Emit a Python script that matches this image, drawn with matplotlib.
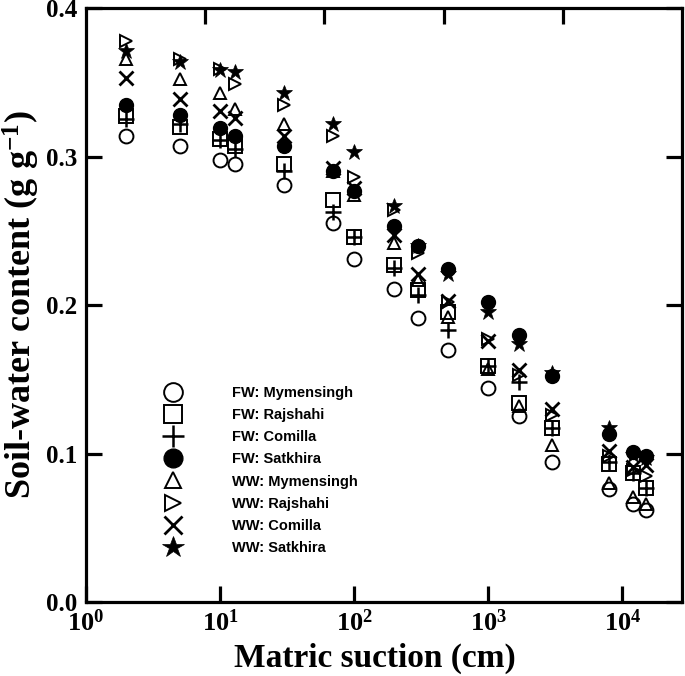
import matplotlib
matplotlib.use("Agg")
import matplotlib.pyplot as plt

plt.rcParams['mathtext.fontset'] = 'custom'
plt.rcParams['mathtext.rm'] = 'Liberation Serif:bold'
plt.rcParams['mathtext.it'] = 'Liberation Serif:bold:italic'
plt.rcParams['mathtext.bf'] = 'Liberation Serif:bold'

suction = [2, 5, 10, 13, 30, 70, 100, 200, 300, 500, 1000, 1700, 3000, 8000, 12000, 15000]

fw_mymensingh = [0.314, 0.307, 0.298, 0.295, 0.281, 0.255, 0.231, 0.211, 0.191, 0.170, 0.144, 0.125, 0.094, 0.076, 0.066, 0.062]
fw_rajshahi   = [0.327, 0.320, 0.312, 0.307, 0.295, 0.271, 0.246, 0.227, 0.210, 0.195, 0.159, 0.134, 0.117, 0.093, 0.087, 0.077]
fw_comilla    = [0.325, 0.322, 0.311, 0.305, 0.290, 0.263, 0.246, 0.225, 0.207, 0.183, 0.159, 0.148, 0.117, 0.094, 0.087, 0.077]
fw_satkhira   = [0.335, 0.328, 0.319, 0.314, 0.307, 0.290, 0.277, 0.253, 0.240, 0.224, 0.202, 0.180, 0.152, 0.113, 0.101, 0.098]
ww_mymensingh = [0.366, 0.352, 0.343, 0.332, 0.322, 0.290, 0.274, 0.242, 0.217, 0.192, 0.157, 0.132, 0.106, 0.080, 0.071, 0.066]
ww_rajshahi   = [0.378, 0.366, 0.359, 0.349, 0.335, 0.314, 0.286, 0.264, 0.235, 0.202, 0.177, 0.153, 0.126, 0.098, 0.089, 0.085]
ww_comilla    = [0.353, 0.339, 0.331, 0.326, 0.314, 0.292, 0.279, 0.247, 0.221, 0.203, 0.176, 0.156, 0.130, 0.102, 0.091, 0.092]
ww_satkhira   = [0.371, 0.364, 0.358, 0.357, 0.343, 0.322, 0.303, 0.267, 0.240, 0.221, 0.195, 0.174, 0.154, 0.117, 0.099, 0.097]

labels = ["FW: Mymensingh", "FW: Rajshahi", "FW: Comilla", "FW: Satkhira",
          "WW: Mymensingh", "WW: Rajshahi", "WW: Comilla", "WW: Satkhira"]
x_ticks = [1, 10, 100, 1000, 10000]
x_ticklabels = [r"$\mathrm{10^{0}}$", r"$\mathrm{10^{1}}$", r"$\mathrm{10^{2}}$",
                r"$\mathrm{10^{3}}$", r"$\mathrm{10^{4}}$"]
y_ticks = [0.0, 0.1, 0.2, 0.3, 0.4]

series = [fw_mymensingh, fw_rajshahi, fw_comilla, fw_satkhira,
          ww_mymensingh, ww_rajshahi, ww_comilla, ww_satkhira]
styles = [
    dict(marker='o', ms=10, mfc='none', mew=1.4),
    dict(marker='s', ms=9.5, mfc='none', mew=1.4),
    dict(marker='+', ms=12, mew=1.8),
    dict(marker='o', ms=10, mfc='black', mew=1.0),
    dict(marker='^', ms=8.5, mfc='none', mew=1.4),
    dict(marker='>', ms=8.5, mfc='none', mew=1.4),
    dict(marker='x', ms=10, mew=2.0),
    dict(marker='*', ms=12, mfc='black', mew=0.5),
]
zorders = [3, 3, 3, 6, 3, 3, 3, 5]

fig = plt.figure(figsize=(6.85, 6.76), dpi=100)
ax = fig.add_axes([0.1255, 0.1095, 0.8705, 0.8785])

handles = []
for vals, st, lab, z in zip(series, styles, labels, zorders):
    h, = ax.plot(suction, vals, linestyle='none', color='black', mec='black',
                 zorder=z, label=lab, **st)
    handles.append(h)

ax.set_xscale('log')
ax.set_xlim(1, 2.8e4)
ax.set_ylim(0, 0.4)
ax.set_xticks(x_ticks)
ax.set_xticklabels(x_ticklabels)
ax.xaxis.set_minor_locator(matplotlib.ticker.NullLocator())
ax.set_yticks(y_ticks)
ax.set_yticklabels([f"{v:.1f}" for v in y_ticks])

for s in ax.spines.values():
    s.set_linewidth(2.3)
ax.tick_params(which='major', direction='in', length=11.5, width=2.3,
               right=True, top=False, labelsize=18, pad=6)
for t in ax.get_yticklabels():
    t.set_fontfamily('Liberation Serif')
    t.set_fontweight('bold')
for t in ax.get_xticklabels():
    t.set_fontsize(19)

axt = ax.twiny()
axt.set_xlim(0, 1)
axt.set_xticks([0.2, 0.4, 0.6, 0.8])
axt.tick_params(direction='in', length=11.5, width=2.3, labeltop=False, top=True)
axt.xaxis.set_minor_locator(matplotlib.ticker.NullLocator())

ax.set_xlabel("Matric suction (cm)", fontfamily='Liberation Serif',
              fontweight='bold', fontsize=24, labelpad=3)
ax.xaxis.set_label_coords(0.485, -0.068)
ax.set_ylabel(r"Soil-water content (g g$^{\mathregular{-1}}$)", fontfamily='Liberation Serif',
              fontweight='bold', fontsize=26, labelpad=3)

leg = ax.legend(handles=handles, loc='upper left', bbox_to_anchor=(0.105, 0.386),
                frameon=False, markerscale=1.35, handlelength=1.5,
                handletextpad=3.3, labelspacing=0.56,
                prop=dict(family='Liberation Sans', weight='bold', size=10.5))

fig.savefig("out.png", dpi=100)
